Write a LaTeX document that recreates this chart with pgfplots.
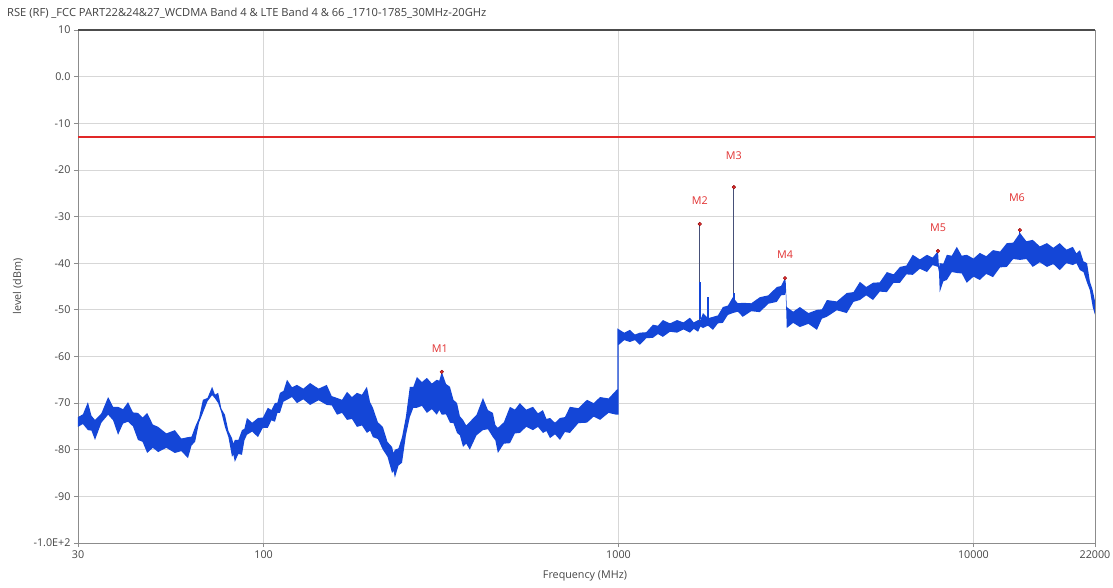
\documentclass[border=0pt]{standalone}
\usepackage{fontspec}
\setmainfont{Open Sans}
\usepackage{pgfplots}
\pgfplotsset{compat=1.18}
\definecolor{tracecol}{RGB}{20,70,215}
\definecolor{limitred}{RGB}{225,40,40}
\definecolor{mkred}{RGB}{225,50,50}
\definecolor{gridgray}{RGB}{215,215,215}
\definecolor{framegray}{RGB}{140,140,140}
\definecolor{txtgray}{RGB}{70,70,70}
\definecolor{spikecol}{RGB}{70,80,120}
\begin{document}
\begin{tikzpicture}
\begin{axis}[
  name=ax, at={(0,0)}, anchor=south west,
  scale only axis, width=1017bp, height=513bp,
  xmin=1.4771, xmax=4.3424, ymin=-100, ymax=10,
  xtick={1.4771,2,3,4,4.3424}, xticklabels={30,100,1000,10000,22000},
  ytick={-100,-90,...,10},
  yticklabels={-1.0E+2,-90,-80,-70,-60,-50,-40,-30,-20,-10,0.0,10},
  grid=major, grid style={draw=gridgray, line width=0.7bp},
  axis line style={draw=framegray, line width=0.8bp},
  tick style={draw=framegray, line width=0.7bp},
  tick align=outside, major tick length=4bp,
  xtick pos=left, ytick pos=left,
  tick label style={font=\fontsize{10.8}{12}\selectfont, text=txtgray},
  xlabel={Frequency (MHz)}, ylabel={level (dBm)},
  label style={font=\fontsize{10.8}{12}\selectfont, text=txtgray},
  xlabel style={at={(axis description cs:0.4985,-0.0643)}, anchor=center},
  ylabel style={at={(axis description cs:-0.059,0.5)}, anchor=center},
  clip=true,
]
% measured trace (upper edge left to right, lower edge back)
\addplot[draw=none, fill=tracecol] coordinates {
(1.477,-73.0)(1.491,-72.4)(1.505,-69.8)(1.515,-72.7)(1.525,-73.6)(1.543,-72.2)
(1.562,-68.7)(1.576,-70.8)(1.590,-70.8)(1.604,-71.3)(1.618,-69.8)(1.632,-72.0)
(1.646,-72.1)(1.659,-73.1)(1.672,-72.1)(1.688,-74.6)(1.703,-75.1)(1.726,-76.5)
(1.750,-75.8)(1.768,-77.6)(1.787,-77.3)(1.797,-77.2)(1.807,-75.1)(1.818,-73.2)
(1.829,-69.3)(1.842,-68.9)(1.855,-66.5)(1.863,-68.2)(1.872,-67.8)(1.881,-71.2)
(1.891,-72.5)(1.901,-76.0)(1.911,-77.5)(1.915,-78.7)(1.919,-77.9)(1.929,-77.9)
(1.939,-75.8)(1.946,-75.5)(1.953,-73.2)(1.968,-74.2)(1.984,-73.2)(1.998,-73.1)
(2.012,-71.0)(2.022,-71.5)(2.032,-70.0)(2.039,-69.9)(2.046,-67.8)(2.056,-67.4)
(2.066,-65.0)(2.080,-66.6)(2.094,-66.1)(2.112,-66.9)(2.131,-65.7)(2.155,-66.9)
(2.178,-66.1)(2.192,-68.5)(2.207,-68.9)(2.221,-69.3)(2.235,-67.6)(2.249,-68.7)
(2.263,-67.8)(2.277,-68.2)(2.291,-66.5)(2.300,-69.8)(2.308,-71.0)(2.322,-74.1)
(2.336,-75.1)(2.349,-78.3)(2.362,-79.4)(2.366,-80.7)(2.370,-80.0)(2.380,-79.7)
(2.390,-77.3)(2.401,-72.9)(2.412,-66.5)(2.422,-66.5)(2.432,-64.4)(2.446,-65.5)
(2.460,-64.6)(2.474,-65.8)(2.488,-65.0)(2.495,-65.2)(2.502,-63.3)(2.514,-65.9)
(2.525,-66.5)(2.535,-69.3)(2.545,-70.0)(2.553,-72.8)(2.562,-73.6)(2.571,-74.8)
(2.581,-74.0)(2.600,-72.5)(2.618,-68.9)(2.632,-71.5)(2.646,-72.1)(2.653,-74.7)
(2.660,-75.3)(2.677,-74.1)(2.694,-70.8)(2.708,-71.4)(2.722,-70.0)(2.740,-71.4)
(2.759,-70.8)(2.773,-72.2)(2.787,-71.5)(2.797,-73.4)(2.807,-73.2)(2.821,-74.2)
(2.835,-73.2)(2.849,-73.0)(2.863,-70.8)(2.887,-71.1)(2.911,-69.3)(2.930,-70.0)
(2.948,-68.7)(2.972,-69.0)(2.994,-67.2)(2.997,-67.0)
(2.997,-54.0)(3.016,-54.9)(3.032,-54.3)(3.046,-55.3)(3.060,-54.9)(3.078,-54.8)
(3.097,-53.2)(3.111,-53.4)(3.125,-52.2)(3.145,-52.9)(3.165,-52.2)(3.183,-52.7)
(3.201,-51.7)(3.212,-52.7)(3.224,-52.2)(3.231,-52.1)(3.238,-50.7)(3.252,-51.8)
(3.266,-51.5)(3.280,-51.2)(3.294,-49.4)(3.308,-49.1)(3.322,-47.3)(3.336,-48.6)
(3.350,-48.5)(3.374,-48.6)(3.398,-47.3)(3.422,-46.9)(3.446,-45.1)(3.458,-44.9)
(3.469,-43.2)(3.471,-44.0)(3.474,-49.4)(3.492,-50.4)(3.511,-49.4)(3.535,-50.7)
(3.559,-50.0)(3.573,-49.9)(3.587,-47.9)(3.615,-48.2)(3.643,-46.4)(3.662,-46.2)
(3.680,-44.0)(3.698,-45.1)(3.717,-44.2)(3.736,-44.1)(3.756,-41.9)(3.775,-42.4)
(3.793,-40.8)(3.811,-40.5)(3.829,-38.2)(3.849,-39.2)(3.869,-38.2)(3.885,-38.8)
(3.900,-37.4)(3.903,-41.0)(3.905,-40.0)(3.915,-40.1)(3.925,-38.2)(3.939,-38.4)
(3.953,-36.5)(3.967,-38.4)(3.981,-38.2)(4.000,-39.0)(4.018,-37.8)(4.036,-38.5)
(4.055,-37.2)(4.075,-37.5)(4.094,-35.7)(4.112,-35.6)(4.131,-33.5)(4.149,-35.3)
(4.167,-35.0)(4.187,-36.4)(4.207,-35.7)(4.225,-36.7)(4.243,-35.7)(4.262,-37.1)
(4.280,-36.5)(4.290,-37.9)(4.300,-37.2)(4.310,-39.6)(4.320,-40.0)(4.328,-43.9)
(4.336,-45.8)(4.342,-48.0)
(4.342,-51.0)(4.336,-49.4)(4.328,-45.8)(4.320,-44.2)(4.310,-41.9)(4.300,-41.5)
(4.290,-40.0)(4.280,-40.4)(4.262,-40.0)(4.243,-41.5)(4.225,-40.2)(4.207,-40.8)
(4.187,-39.8)(4.167,-40.8)(4.149,-39.1)(4.131,-39.3)(4.112,-39.1)(4.094,-40.8)
(4.075,-40.9)(4.055,-43.0)(4.036,-42.3)(4.018,-43.6)(4.000,-42.9)(3.981,-44.2)
(3.967,-42.2)(3.953,-42.1)(3.939,-41.9)(3.925,-43.6)(3.915,-43.9)(3.905,-46.2)
(3.903,-42.0)(3.900,-40.8)(3.885,-40.4)(3.869,-41.9)(3.849,-41.2)(3.829,-42.5)
(3.811,-42.4)(3.793,-44.2)(3.775,-44.2)(3.756,-46.2)(3.736,-46.1)(3.717,-47.9)
(3.698,-46.9)(3.680,-47.9)(3.662,-48.3)(3.643,-50.7)(3.615,-50.1)(3.587,-51.5)
(3.573,-51.9)(3.559,-54.3)(3.535,-53.0)(3.511,-53.7)(3.492,-52.8)(3.474,-53.9)
(3.471,-46.0)(3.469,-46.8)(3.458,-46.9)(3.446,-48.3)(3.422,-48.7)(3.398,-50.5)
(3.374,-50.3)(3.350,-51.5)(3.336,-50.4)(3.322,-50.7)(3.308,-51.1)(3.294,-52.8)
(3.280,-52.9)(3.266,-54.3)(3.252,-53.4)(3.238,-53.9)(3.231,-53.6)(3.224,-54.7)
(3.212,-54.1)(3.201,-54.9)(3.183,-54.2)(3.165,-54.9)(3.145,-54.7)(3.125,-55.8)
(3.111,-55.2)(3.097,-56.0)(3.078,-56.1)(3.060,-57.5)(3.046,-56.5)(3.032,-56.9)
(3.016,-56.5)(3.001,-57.5)(3.000,-57.5)
(3.000,-72.5)(2.994,-72.5)(2.972,-72.1)(2.948,-73.6)(2.930,-72.9)(2.911,-74.2)
(2.887,-74.3)(2.863,-76.4)(2.849,-76.2)(2.835,-77.9)(2.821,-76.7)(2.807,-77.5)
(2.797,-76.0)(2.787,-76.4)(2.773,-75.1)(2.759,-75.8)(2.740,-75.1)(2.722,-76.4)
(2.708,-76.5)(2.694,-78.6)(2.677,-78.7)(2.660,-80.7)(2.653,-78.0)(2.646,-77.3)
(2.632,-75.6)(2.618,-75.8)(2.600,-76.9)(2.581,-80.0)(2.571,-78.7)(2.562,-79.4)
(2.553,-76.9)(2.545,-76.4)(2.535,-74.3)(2.525,-74.2)(2.514,-72.4)(2.502,-72.5)
(2.495,-71.5)(2.488,-72.5)(2.474,-71.3)(2.460,-72.1)(2.446,-70.6)(2.432,-71.0)
(2.422,-71.0)(2.412,-73.0)(2.401,-76.9)(2.390,-82.8)(2.380,-83.4)(2.370,-86.0)
(2.366,-84.5)(2.362,-85.0)(2.349,-81.5)(2.336,-80.0)(2.322,-77.7)(2.308,-77.3)
(2.300,-75.9)(2.291,-76.4)(2.277,-74.8)(2.263,-75.1)(2.249,-73.4)(2.235,-73.6)
(2.221,-72.1)(2.207,-72.5)(2.192,-70.5)(2.178,-70.4)(2.155,-69.4)(2.131,-70.4)
(2.112,-69.2)(2.094,-70.0)(2.080,-68.7)(2.066,-69.3)(2.056,-69.7)(2.046,-72.1)
(2.039,-72.1)(2.032,-74.0)(2.022,-73.7)(2.012,-75.3)(1.998,-75.3)(1.984,-77.3)
(1.968,-76.1)(1.953,-76.8)(1.946,-78.0)(1.939,-81.1)(1.929,-80.9)(1.919,-82.6)
(1.915,-81.1)(1.911,-81.5)(1.901,-77.3)(1.891,-75.1)(1.881,-72.0)(1.872,-70.0)
(1.863,-69.0)(1.855,-68.3)(1.842,-69.6)(1.829,-72.1)(1.818,-74.2)(1.807,-78.3)
(1.797,-79.1)(1.787,-81.8)(1.768,-80.3)(1.750,-80.7)(1.726,-79.6)(1.703,-80.5)
(1.688,-79.6)(1.672,-80.7)(1.659,-78.3)(1.646,-77.9)(1.632,-75.0)(1.618,-74.0)
(1.604,-74.4)(1.590,-76.8)(1.576,-73.7)(1.562,-72.5)(1.543,-74.2)(1.525,-77.9)
(1.515,-75.9)(1.505,-75.8)(1.491,-74.5)(1.477,-75.1)
} -- cycle;
% limit line (-13 dBm)
\addplot[color=limitred, line width=1.9bp] coordinates {(1.4771,-13) (4.3424,-13)};
% narrow spurious peaks
\addplot[draw=none, fill=spikecol] coordinates {(3.2277,-52.5) (3.2277,-31.6) (3.2303,-31.6) (3.2303,-52.5)} -- cycle;
\addplot[draw=none, fill=spikecol] coordinates {(3.3237,-49.0) (3.3237,-23.7) (3.3263,-23.7) (3.3263,-49.0)} -- cycle;
\addplot[draw=none, fill=tracecol] coordinates {(3.2270,-52.0) (3.2270,-44.0) (3.2310,-44.0) (3.2310,-52.0)} -- cycle;
\addplot[draw=none, fill=tracecol] coordinates {(3.2505,-52.0) (3.2505,-47.3) (3.2535,-47.3) (3.2535,-52.0)} -- cycle;
\addplot[draw=none, fill=tracecol] coordinates {(3.3232,-49.0) (3.3232,-46.4) (3.3268,-46.4) (3.3268,-49.0)} -- cycle;
\addplot[draw=none, fill=tracecol] coordinates {(4.1295,-37.0) (4.1295,-32.9) (4.1325,-32.9) (4.1325,-37.0)} -- cycle;
% markers
\addplot[only marks, mark=*, mark size=1.8bp, mark options={fill=mkred, draw=red!55!black, line width=0.4bp}]
  coordinates {(2.502,-63.3) (3.229,-31.6) (3.325,-23.7) (3.469,-43.2) (3.900,-37.4) (4.131,-32.9)};
\begin{scope}[every node/.style={text=mkred, font=\fontsize{10.8}{12}\selectfont}]
\node at (axis cs:2.502,-63.3) [yshift=23bp,xshift=-2bp] {M1};
\node at (axis cs:3.229,-31.6) [yshift=23bp] {M2};
\node at (axis cs:3.325,-23.7) [yshift=32bp] {M3};
\node at (axis cs:3.469,-43.2) [yshift=23bp] {M4};
\node at (axis cs:3.900,-37.4) [yshift=23bp] {M5};
\node at (axis cs:4.131,-32.9) [yshift=32bp,xshift=-3bp] {M6};
\end{scope}
\end{axis}
\draw[draw=black!70, line width=1.6bp] (ax.north west) -- (ax.north east);
\node[anchor=base west, font=\fontsize{11.2}{12}\selectfont, text=black!75, inner sep=0pt]
  at (-71bp,526bp) {RSE (RF) \_FCC PART22\&24\&27\_WCDMA Band 4 \& LTE Band 4 \& 66 \_1710-1785\_30MHz-20GHz};
\pgfresetboundingbox
\path[use as bounding box] (-78bp,-45bp) rectangle (1035bp,543bp);
\end{tikzpicture}
\end{document}
